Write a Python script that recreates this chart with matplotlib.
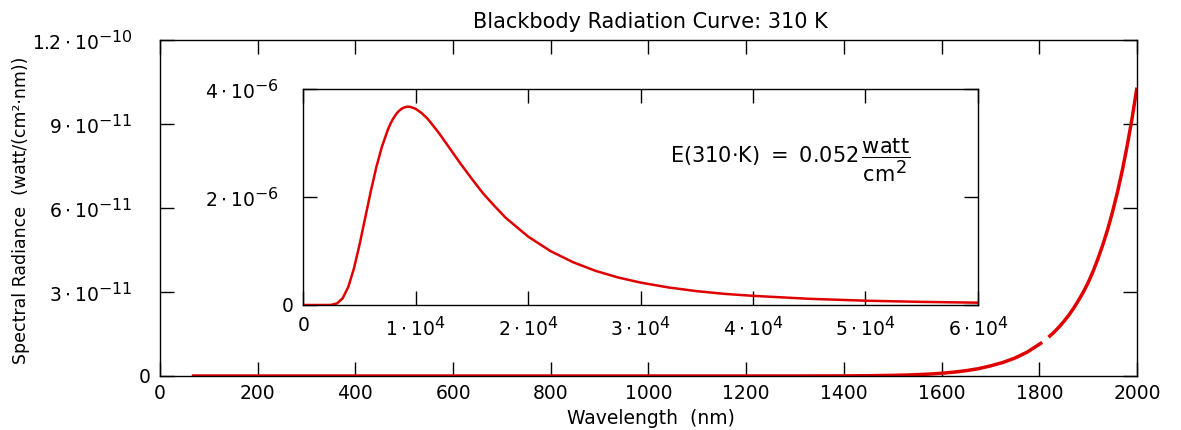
import numpy as np
import matplotlib
matplotlib.use("Agg")
import matplotlib.pyplot as plt
import matplotlib._mathtext as _mt

# larger super/sub-scripts and fractions, as in the reference
_mt.SHRINK_FACTOR = 0.85

# ---------------- data ----------------
# main panel: wavelength (nm) vs spectral radiance (watt/(cm^2 nm)); NaN = gap in the drawn curve
main_wl = [65, 800, 1000, 1200, 1300, 1400, 1450, 1500, 1525, 1550, 1575, 1600, 1625,
           1650, 1675, 1700, 1725, 1750, 1775, 1800, 1806, 1812, 1819, 1830, 1840,
           1850, 1860, 1870, 1880, 1890, 1900, 1910, 1920, 1930, 1940, 1950, 1960,
           1970, 1980, 1990, 2000]
main_val = [0.0, 0.0, 0.0, 0.0001e-11, 0.0006e-11, 0.004e-11, 0.010e-11, 0.023e-11,
            0.033e-11, 0.048e-11, 0.069e-11, 0.097e-11, 0.137e-11, 0.19e-11, 0.26e-11,
            0.36e-11, 0.48e-11, 0.64e-11, 0.85e-11, 1.13e-11, 1.20e-11, np.nan,
            1.385e-11, 1.56e-11, 1.74e-11, 1.94e-11, 2.16e-11, 2.41e-11, 2.69e-11,
            2.99e-11, 3.33e-11, 3.73e-11, 4.18e-11, 4.68e-11, 5.23e-11, 5.86e-11,
            6.56e-11, 7.34e-11, 8.22e-11, 9.20e-11, 10.3e-11]

# inset panel
inset_wl = [0, 1000, 2000, 2500, 3000, 3500, 4000, 4500, 5000, 5500, 6000, 6500, 7000,
            7500, 7750, 8000, 8250, 8500, 8750, 9000, 9250, 9500, 10000, 10500, 11000,
            11500, 12000, 12500, 13000, 14000, 15000, 16000, 17000, 18000, 20000, 22000,
            24000, 26000, 28000, 30000, 32500, 35000, 37500, 40000, 45000, 50000, 55000,
            60000]
inset_val = [0.0, 0.0, 0.0, 0.002e-6, 0.029e-6, 0.124e-6, 0.333e-6, 0.674e-6, 1.115e-6,
             1.61e-6, 2.105e-6, 2.56e-6, 2.94e-6, 3.24e-6, 3.364e-6, 3.46e-6, 3.539e-6,
             3.60e-6, 3.642e-6, 3.668e-6, 3.68e-6, 3.678e-6, 3.641e-6, 3.567e-6,
             3.47e-6, 3.343e-6, 3.21e-6, 3.064e-6, 2.916e-6, 2.62e-6, 2.34e-6, 2.07e-6,
             1.84e-6, 1.62e-6, 1.27e-6, 1.00e-6, 0.794e-6, 0.634e-6, 0.511e-6, 0.416e-6,
             0.325e-6, 0.257e-6, 0.206e-6, 0.170e-6, 0.115e-6, 0.080e-6, 0.058e-6, 0.043e-6]

main_xticks = [0, 200, 400, 600, 800, 1000, 1200, 1400, 1600, 1800, 2000]
main_yticks = [0, 3e-11, 6e-11, 9e-11, 1.2e-10]
main_ylabels = ["0", r"$3\cdot10^{-11}$", r"$6\cdot10^{-11}$", r"$9\cdot10^{-11}$",
                r"$1.2\cdot10^{-10}$"]
inset_xticks = [0, 1e4, 2e4, 3e4, 4e4, 5e4, 6e4]
inset_xlabels = ["0", r"$1\cdot10^{4}$", r"$2\cdot10^{4}$", r"$3\cdot10^{4}$",
                 r"$4\cdot10^{4}$", r"$5\cdot10^{4}$", r"$6\cdot10^{4}$"]
inset_yticks = [0, 2e-6, 4e-6]
inset_ylabels = ["0", r"$2\cdot10^{-6}$", r"$4\cdot10^{-6}$"]

title = "Blackbody Radiation Curve: 310 K"
xlabel = "Wavelength  (nm)"
ylabel = "Spectral Radiance  (watt/(cm²·nm))"
annot = r"$\mathrm{E(310{\cdot}K)\ =\ 0.052}\,\dfrac{\mathrm{watt}}{\mathrm{cm}^{2}}$"

# ---------------- style ----------------
plt.rcParams["font.family"] = ["DejaVu Sans"]
plt.rcParams["mathtext.fontset"] = "dejavusans"
plt.rcParams["axes.linewidth"] = 1.0

RED = "#e00000"
FS = 13.5

fig = plt.figure(figsize=(11.81, 4.30), dpi=100)

ax = fig.add_axes([0.1355, 0.1256, 0.8272, 0.7814])
ax.plot(main_wl, main_val, color=RED, lw=2.5, solid_capstyle="butt")
ax.set_xlim(0, 2000)
ax.set_ylim(0, 1.2e-10)
ax.set_xticks(main_xticks)
ax.set_xticklabels([str(v) for v in main_xticks])
ax.set_yticks(main_yticks)
ax.set_yticklabels(main_ylabels)
ax.tick_params(direction="in", length=10, width=1, top=True, right=True,
               labelsize=FS, pad=6)
for i, t in enumerate(ax.yaxis.get_major_ticks()):
    t.set_pad(7 if i == 0 else 20)
for lab in ax.get_yticklabels():
    lab.set_verticalalignment("center_baseline")

axi = fig.add_axes([0.2568, 0.2907, 0.5711, 0.5012])
axi.plot(inset_wl, inset_val, color=RED, lw=1.8)
axi.set_xlim(0, 6e4)
axi.set_ylim(0, 4e-6)
axi.set_xticks(inset_xticks)
axi.set_xticklabels(inset_xlabels)
axi.set_yticks(inset_yticks)
axi.set_yticklabels(inset_ylabels)
axi.tick_params(direction="in", length=10, width=1, top=True, right=True,
                labelsize=FS, pad=8)
for i, t in enumerate(axi.yaxis.get_major_ticks()):
    t.set_pad(7 if i == 0 else 18)
for lab in axi.get_yticklabels():
    lab.set_verticalalignment("center_baseline")

axi.text(0.543, 0.67, annot, transform=axi.transAxes, fontsize=15,
         ha="left", va="center")

fig.text(0.5505, 1 - 22.5 / 430, title, ha="center", va="center", fontsize=15)
fig.text(0.551, 1 - 419 / 430, xlabel, ha="center", va="center", fontsize=13.5)
fig.text(0.018, 0.512, ylabel, ha="center", va="center", rotation=90, fontsize=12.5)

fig.savefig("out.png", dpi=100)
